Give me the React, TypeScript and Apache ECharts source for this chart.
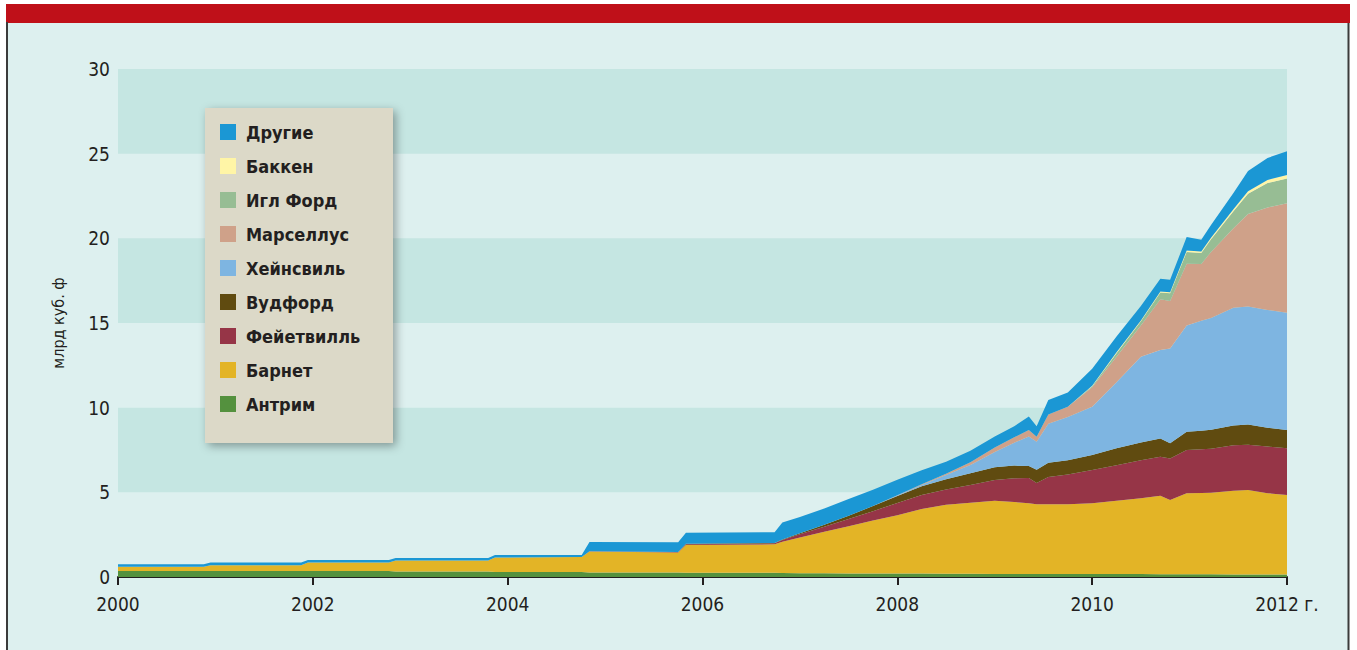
import { useEffect, useRef } from 'react';
import * as echarts from 'echarts';

// Time points (fractional years) shared by every layer of the stack
const years = [
  2000, 2000.88, 2000.95, 2001.88, 2001.95, 2002.78, 2002.85, 2003.8, 2003.87, 2004.76,
  2004.84, 2005.75, 2005.83, 2006.74, 2006.82, 2007.0, 2007.25, 2007.5, 2007.75, 2008.0,
  2008.25, 2008.5, 2008.75, 2009.0, 2009.2, 2009.35, 2009.43, 2009.55, 2009.75, 2010.0,
  2010.25, 2010.5, 2010.7, 2010.8, 2010.97, 2011.12, 2011.22, 2011.45, 2011.6, 2011.8, 2012.0,
];

// Production by play, bcf/day
const antrim = [
  0.35, 0.35, 0.35, 0.35, 0.35, 0.35, 0.33, 0.33, 0.3, 0.3,
  0.27, 0.27, 0.25, 0.25, 0.23, 0.22, 0.22, 0.21, 0.21, 0.2,
  0.2, 0.19, 0.19, 0.18, 0.18, 0.18, 0.18, 0.18, 0.18, 0.17,
  0.17, 0.17, 0.16, 0.16, 0.16, 0.16, 0.16, 0.15, 0.15, 0.15, 0.15,
];
const barnett = [
  0.25, 0.25, 0.35, 0.35, 0.5, 0.5, 0.65, 0.65, 0.85, 0.88,
  1.23, 1.17, 1.64, 1.68, 1.85, 2.12, 2.45, 2.79, 3.12, 3.45,
  3.82, 4.08, 4.2, 4.32, 4.25, 4.17, 4.12, 4.12, 4.12, 4.18,
  4.33, 4.48, 4.64, 4.39, 4.78, 4.8, 4.82, 4.95, 4.99, 4.8, 4.69,
];
const fayetteville = [
  0, 0, 0, 0, 0, 0, 0, 0, 0, 0,
  0.02, 0.03, 0.05, 0.06, 0.1, 0.18, 0.3, 0.42, 0.56, 0.72,
  0.82, 0.9, 1.05, 1.23, 1.4, 1.5, 1.25, 1.6, 1.75, 1.97,
  2.1, 2.25, 2.3, 2.45, 2.56, 2.58, 2.6, 2.68, 2.67, 2.75, 2.76,
];
const woodford = [
  0, 0, 0, 0, 0, 0, 0, 0, 0, 0,
  0, 0, 0.02, 0.02, 0.04, 0.07, 0.12, 0.2, 0.3, 0.42,
  0.52, 0.6, 0.68, 0.75, 0.75, 0.7, 0.78, 0.85, 0.85, 0.88,
  1.0, 1.05, 1.08, 0.9, 1.08, 1.1, 1.12, 1.17, 1.2, 1.12, 1.08,
];
const haynesville = [
  0, 0, 0, 0, 0, 0, 0, 0, 0, 0,
  0, 0, 0, 0, 0, 0, 0, 0, 0, 0.02,
  0.08, 0.25, 0.5, 0.9, 1.35, 1.75, 1.65, 2.3, 2.55, 2.86,
  3.9, 5.05, 5.22, 5.6, 6.27, 6.5, 6.6, 6.95, 6.97, 6.95, 6.93,
];
const marcellus = [
  0, 0, 0, 0, 0, 0, 0, 0, 0, 0,
  0, 0, 0, 0, 0, 0, 0, 0, 0, 0.02,
  0.04, 0.08, 0.15, 0.27, 0.32, 0.38, 0.3, 0.55, 0.6, 1.15,
  1.5, 1.85, 3.0, 2.8, 3.65, 3.35, 3.9, 4.7, 5.45, 6.05, 6.46,
];
const eagleFord = [
  0, 0, 0, 0, 0, 0, 0, 0, 0, 0,
  0, 0, 0, 0, 0, 0, 0, 0, 0, 0,
  0, 0, 0, 0, 0, 0, 0, 0, 0, 0.05,
  0.22, 0.25, 0.4, 0.45, 0.7, 0.65, 0.75, 1.0, 1.2, 1.45, 1.47,
];
const bakken = [
  0, 0, 0, 0, 0, 0, 0, 0, 0, 0,
  0, 0, 0, 0, 0, 0, 0, 0, 0, 0,
  0, 0, 0, 0, 0, 0, 0, 0, 0, 0.04,
  0.05, 0.05, 0.06, 0.06, 0.08, 0.08, 0.09, 0.12, 0.15, 0.18, 0.2,
];
const others = [
  0.15, 0.15, 0.15, 0.15, 0.15, 0.15, 0.14, 0.14, 0.15, 0.12,
  0.55, 0.58, 0.66, 0.64, 1.0, 0.96, 0.96, 0.98, 0.96, 0.92,
  0.82, 0.7, 0.68, 0.65, 0.65, 0.8, 0.62, 0.85, 0.85, 1.0,
  0.93, 0.85, 0.75, 0.74, 0.8, 0.7, 0.75, 0.95, 1.2, 1.3, 1.4,
];

// Stack order, bottom to top
const layers = [
  { name: 'Антрим', values: antrim, color: '#54913e' },
  { name: 'Барнет', values: barnett, color: '#e3b426' },
  { name: 'Фейетвилль', values: fayetteville, color: '#963547' },
  { name: 'Вудфорд', values: woodford, color: '#604b10' },
  { name: 'Хейнсвиль', values: haynesville, color: '#7eb5e1' },
  { name: 'Марселлус', values: marcellus, color: '#cfa189' },
  { name: 'Игл Форд', values: eagleFord, color: '#97bd94' },
  { name: 'Баккен', values: bakken, color: '#fff5a6' },
  { name: 'Другие', values: others, color: '#1b97d4' },
];

const legendOrder = [
  'Другие', 'Баккен', 'Игл Форд', 'Марселлус', 'Хейнсвиль',
  'Вудфорд', 'Фейетвилль', 'Барнет', 'Антрим',
];

const yearTicks = [2000, 2002, 2004, 2006, 2008, 2010, 2012];
const lastTickLabel = '2012 г.';
const yAxisTitle = 'млрд куб. ф';

const FONT = "'Liberation Sans Narrow', 'Arial Narrow', 'DejaVu Sans Condensed', sans-serif";
const INK = '#231f20';

export default function App() {
  const ref = useRef<HTMLDivElement>(null);

  useEffect(() => {
    if (!ref.current) return;
    const chart = echarts.init(ref.current, null, { renderer: 'svg' });

    chart.setOption({
      animation: false,
      backgroundColor: '#ffffff',
      textStyle: { fontFamily: FONT },
      grid: { left: 118, right: 70, top: 69, bottom: 73 },
      xAxis: {
        type: 'value',
        min: yearTicks[0],
        max: yearTicks[yearTicks.length - 1],
        interval: 2,
        axisLine: { show: true, lineStyle: { color: INK, width: 2 } },
        axisTick: { show: true, length: 8, lineStyle: { color: INK, width: 2 } },
        splitLine: { show: false },
        axisLabel: {
          margin: 17,
          color: INK,
          fontSize: 19,
          fontFamily: FONT,
          formatter: (v: number) => (v === yearTicks[yearTicks.length - 1] ? lastTickLabel : String(v)),
        },
      },
      yAxis: {
        type: 'value',
        min: 0,
        max: 30,
        interval: 5,
        name: yAxisTitle,
        nameLocation: 'middle',
        nameGap: 52,
        nameTextStyle: { color: INK, fontSize: 16, fontFamily: FONT },
        axisLine: { show: false },
        axisTick: { show: false },
        splitLine: { show: false },
        splitArea: { show: true, areaStyle: { color: ['rgba(0,0,0,0)', '#c5e6e2'] } },
        axisLabel: { color: INK, fontSize: 19, margin: 8, fontFamily: FONT },
      },
      legend: {
        data: legendOrder,
        orient: 'vertical',
        left: 220,
        top: 123,
        padding: 0,
        icon: 'rect',
        itemWidth: 16,
        itemHeight: 16,
        itemGap: 16,
        selectedMode: false,
        textStyle: {
          color: INK,
          fontSize: 18,
          fontWeight: 'bold',
          fontFamily: FONT,
          padding: [0, 0, 0, 5],
        },
        z: 6,
      },
      graphic: [
        { type: 'rect', silent: true, z: -10, shape: { x: 7, y: 22, width: 1341, height: 628 }, style: { fill: '#ddf0ef' } },
        { type: 'rect', silent: true, z: -9, shape: { x: 6, y: 4, width: 1344, height: 19 }, style: { fill: '#bf1019' } },
        { type: 'rect', silent: true, z: -9, shape: { x: 6, y: 22, width: 2, height: 628 }, style: { fill: '#3b3b3b' } },
        { type: 'rect', silent: true, z: -9, shape: { x: 1347.5, y: 23, width: 2, height: 627 }, style: { fill: '#3b3b3b' } },
        {
          type: 'rect',
          silent: true,
          z: 5,
          shape: { x: 205, y: 108, width: 188, height: 335 },
          style: {
            fill: '#dcd9c8',
            shadowBlur: 10,
            shadowColor: 'rgba(0,0,0,0.35)',
            shadowOffsetX: 3,
            shadowOffsetY: 3,
          },
        },
      ],
      // Each point is [value, year]; putting the value first makes the
      // stack accumulate along the y axis.
      series: layers.map((l) => ({
        name: l.name,
        type: 'line',
        stack: 'total',
        symbol: 'none',
        showSymbol: false,
        smooth: false,
        color: l.color,
        lineStyle: { width: 0 },
        areaStyle: { color: l.color, opacity: 1 },
        itemStyle: { color: l.color },
        encode: { x: 1, y: 0 },
        data: years.map((y, i) => [l.values[i], y]),
        z: 2,
      })),
    });

    return () => chart.dispose();
  }, []);

  return (
    <div
      ref={ref}
      style={{ position: 'absolute', left: 0, top: 0, width: 1357, height: 650 }}
    />
  );
}
